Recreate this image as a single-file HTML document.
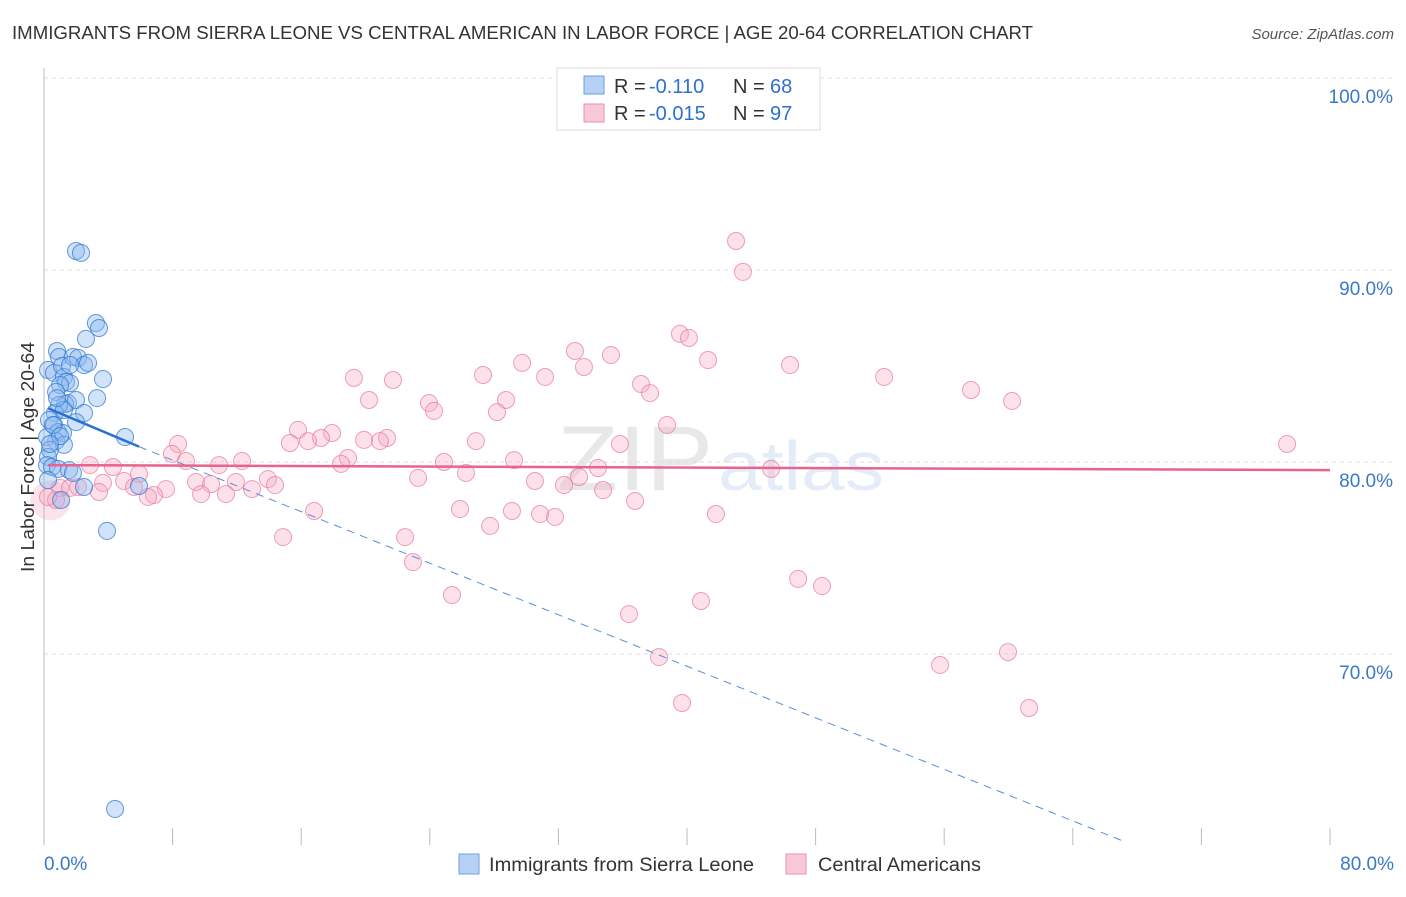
<!DOCTYPE html>
<html><head><meta charset="utf-8">
<style>
body{margin:0;background:#fff;font-family:"Liberation Sans",sans-serif;}
svg text{font-family:"Liberation Sans",sans-serif;}
</style></head>
<body>
<svg id="chart" width="1406" height="892" xmlns="http://www.w3.org/2000/svg">
<text x="12" y="39" font-size="18" fill="#333" textLength="1021" lengthAdjust="spacingAndGlyphs">IMMIGRANTS FROM SIERRA LEONE VS CENTRAL AMERICAN IN LABOR FORCE | AGE 20-64 CORRELATION CHART</text>
<text x="1394" y="39" font-size="15" fill="#555" text-anchor="end" font-style="italic">Source: ZipAtlas.com</text>
<g opacity="0.13">
<text x="557" y="490" font-size="92" fill="#555" font-family="Liberation Serif,serif" textLength="156" lengthAdjust="spacingAndGlyphs">ZIP</text>
<text x="718" y="490" font-size="70" fill="#3a78c8" textLength="166" lengthAdjust="spacingAndGlyphs">atlas</text>
</g>
<g id="grid"></g>
<g id="axes"></g>
<g id="marks"></g>
<text transform="translate(34,457) rotate(-90)" font-size="18" fill="#333" text-anchor="middle" textLength="230" lengthAdjust="spacingAndGlyphs">In Labor Force | Age 20-64</text>
<g>
<rect x="557" y="68" width="263" height="62" fill="#fff" stroke="#ddd"/>
<rect x="584" y="76" width="20" height="18" fill="#b6d1f5" stroke="#6c9ee0"/>
<rect x="584" y="104" width="20" height="18" fill="#f8c8d7" stroke="#ec90ad"/>
<text x="614" y="93" font-size="20" fill="#333">R =</text>
<text x="649" y="93" font-size="20" fill="#2f6fd0">-0.110</text>
<text x="733" y="93" font-size="20" fill="#333">N =</text>
<text x="770" y="93" font-size="20" fill="#2f6fd0">68</text>
<text x="614" y="120" font-size="20" fill="#333">R =</text>
<text x="649" y="120" font-size="20" fill="#2f6fd0">-0.015</text>
<text x="733" y="120" font-size="20" fill="#333">N =</text>
<text x="770" y="120" font-size="20" fill="#2f6fd0">97</text>
</g>
<g>
<rect x="459" y="854" width="20" height="20" fill="#b6d1f5" stroke="#6c9ee0"/>
<text x="489" y="871" font-size="19" fill="#333" textLength="265" lengthAdjust="spacingAndGlyphs">Immigrants from Sierra Leone</text>
<rect x="786" y="854" width="20" height="20" fill="#f8c8d7" stroke="#ec90ad"/>
<text x="818" y="871" font-size="19" fill="#333" textLength="163" lengthAdjust="spacingAndGlyphs">Central Americans</text>
</g>
</svg>
<script>
const yTicks=[100,90,80,70];
const xTickLabels=["0.0%","80.0%"];
const blueX=[1.99,2.30,3.23,3.42,2.61,0.81,0.93,0.25,0.62,1.12,1.80,2.12,2.49,1.24,1.37,1.62,3.67,1.00,0.75,1.49,1.31,1.99,3.30,2.49,0.93,0.68,1.24,0.31,0.62,0.87,1.18,1.99,5.04,0.75,1.24,0.19,0.37,0.25,0.19,0.50,0.87,1.56,0.25,1.80,2.49,1.06,3.92,5.91,4.42,0.56,1.00,1.62,2.74,0.81,0.37];
const blueY=[90.99,90.89,87.24,86.98,86.41,85.78,85.47,84.79,84.64,85.00,85.47,85.42,85.05,84.43,84.17,84.11,84.32,84.01,83.65,83.07,83.02,83.23,83.33,82.55,82.97,82.55,82.71,82.19,81.93,81.56,81.51,82.08,81.30,81.09,80.89,81.30,80.63,80.26,79.84,79.74,79.64,79.58,79.06,79.43,78.70,78.02,76.41,78.75,61.93,81.93,81.35,85.05,85.16,83.33,80.94];
const pinkX=[43.05,43.48,39.56,40.12,41.31,46.41,33.03,35.27,29.74,33.59,27.31,31.17,19.28,21.71,37.14,37.70,52.26,57.67,60.22,20.22,28.74,23.95,24.26,28.18,38.76,15.80,17.92,17.23,15.30,16.42,19.91,21.34,20.90,26.87,35.83,8.34,7.96,8.83,10.89,12.32,18.91,18.48,24.88,29.24,26.25,34.46,77.33,45.23,2.86,4.29,5.91,4.98,3.67,5.60,7.59,9.46,10.39,11.94,13.93,14.37,12.94,9.77,11.32,6.84,6.47,3.42,1.00,1.62,2.12,0.75,0.25,23.27,30.54,32.35,33.28,34.78,36.77,25.88,29.11,30.86,31.79,41.80,16.80,14.87,22.46,27.75,22.95,25.38,36.39,40.87,46.91,48.40,38.26,55.74,59.97,39.69,61.28];
const pinkY=[91.51,89.90,86.67,86.46,85.31,85.05,85.78,85.57,85.16,84.95,84.53,84.43,84.38,84.27,84.06,83.59,84.43,83.75,83.18,83.23,83.23,83.07,82.66,82.60,81.93,81.67,81.51,81.25,80.99,81.09,81.15,81.25,81.09,81.09,80.94,80.94,80.42,80.05,79.84,80.05,80.21,79.90,80.00,80.10,79.43,79.69,80.94,79.64,79.84,79.74,79.38,79.01,78.91,78.70,78.59,78.96,78.85,78.96,79.11,78.80,78.59,78.33,78.33,78.28,78.18,78.44,78.65,78.65,78.70,78.02,78.18,79.17,79.01,78.80,79.22,78.54,77.97,77.55,77.45,77.29,77.14,77.29,77.45,76.09,76.09,76.67,74.79,73.07,72.08,72.76,73.91,73.54,69.84,69.43,70.10,67.45,67.19];
const blueTrendX=[0.25,5.91,67.3];
const blueTrendY=[82.8,80.8,60.2];
const pinkTrendX=[0.25,80];
const pinkTrendY=[79.84,79.58];
const NS="http://www.w3.org/2000/svg";
const X=v=>44+v*1286/80;
const Y=v=>78+(100-v)*19.2;
function mk(p,tag,a){const e=document.createElementNS(NS,tag);for(const k in a)e.setAttribute(k,a[k]);p.appendChild(e);return e;}
const grid=document.getElementById('grid'),axes=document.getElementById('axes'),marks=document.getElementById('marks');
yTicks.forEach(t=>{
 const l=mk(grid,'line',{x1:44,x2:1394,y1:Y(t),y2:Y(t),stroke:'#ddd','stroke-dasharray':'4,4'});
 
 
 const tx=mk(grid,'text',{x:1393,y:Y(t)+25,'font-size':19,fill:'#3a78c8','text-anchor':'end'});
 tx.textContent=t.toFixed(1)+'%';
 
 
});
const ya=mk(axes,'line',{x1:44,x2:44,y1:68,y2:845,stroke:'#bbb'});


for(let i=0;i<=10;i++){
 const t=mk(axes,'line',{x1:X(i*8),x2:X(i*8),y1:828,y2:845,stroke:'#bbb'});
 
 
}
[[0,'start',44],[80,'end',1394]].forEach((d,i)=>{
 const tx=mk(axes,'text',{x:d[2],y:870,'font-size':19,fill:'#3a78c8','text-anchor':d[1]});
 tx.textContent=xTickLabels[i];
 
 
});
const big=mk(marks,'circle',{cx:X(0.4),cy:Y(78.0),r:20,fill:'rgba(244,160,185,0.3)',stroke:'none'});


pinkX.forEach((v,i)=>{
 const c=mk(marks,'circle',{cx:X(v),cy:Y(pinkY[i]),r:8.5,fill:'rgba(246,170,195,0.35)',stroke:'rgba(232,120,155,0.7)','stroke-width':1});
 
 
});
blueX.forEach((v,i)=>{
 const c=mk(marks,'circle',{cx:X(v),cy:Y(blueY[i]),r:8.5,fill:'rgba(140,185,240,0.4)',stroke:'rgba(50,120,210,0.75)','stroke-width':1});
 
 
});
const bs=mk(marks,'line',{x1:X(blueTrendX[0]),y1:Y(blueTrendY[0]),x2:X(blueTrendX[1]),y2:Y(blueTrendY[1]),stroke:'#2a6fd6','stroke-width':2.5});


const bd=mk(marks,'line',{x1:X(blueTrendX[1]),y1:Y(blueTrendY[1]),x2:X(blueTrendX[2]),y2:Y(blueTrendY[2]),stroke:'#5a8fd8','stroke-width':1,'stroke-dasharray':'8,6'});


const pl=mk(marks,'line',{x1:X(pinkTrendX[0]),y1:Y(pinkTrendY[0]),x2:X(pinkTrendX[1]),y2:Y(pinkTrendY[1]),stroke:'#e8638e','stroke-width':2.5});


</script>
</body></html>
